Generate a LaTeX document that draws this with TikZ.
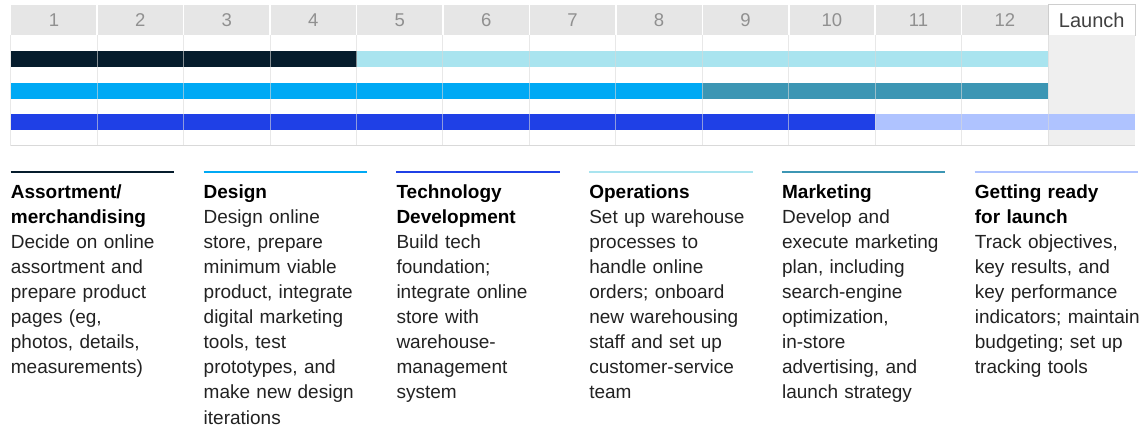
\documentclass[tikz,border=0pt]{standalone}
\usepackage{fontspec}
\setmainfont{Liberation Sans}
\definecolor{navyM}{HTML}{051C2C}
\definecolor{cyanM}{HTML}{00A9F4}
\definecolor{blueM}{HTML}{1F40E6}
\definecolor{cyanL}{HTML}{A9E4EF}
\definecolor{tealM}{HTML}{3C96B4}
\definecolor{periM}{HTML}{AFC3FF}
\definecolor{hdrM}{HTML}{E6E6E6}
\definecolor{gridM}{HTML}{D9D9D9}
\definecolor{launchM}{HTML}{EFEFEF}
\definecolor{numM}{HTML}{909090}
\definecolor{txtM}{HTML}{222222}
\begin{document}
\begin{tikzpicture}[x=1pt,y=-1pt,
  num/.style={text=numM,font=\fontsize{18.5}{18.5}\selectfont,inner sep=0,anchor=base},
  legtext/.style={anchor=north west,inner sep=0,text width=185pt,align=left,
    text=txtM,font=\fontsize{19}{25.1}\selectfont},
  legrule/.style={line width=2.3pt},
  gridline/.style={draw=gridM,line width=1pt}]
\pgfmathsetmacro{\L}{10.7}
\pgfmathsetmacro{\W}{86.45}
\useasboundingbox (0,0) rectangle (1145,430);
\fill[white] (0,0) rectangle (1145,430);
% header
\fill[hdrM] (\L,5) rectangle ({\L+12*\W},35);
\foreach \i in {1,...,11}{
  \draw[white,line width=1.5pt] ({\L+\i*\W},5) -- ({\L+\i*\W},35);
}
\foreach \i in {1,...,12}{
  \node[num] (m\i) at ({\L+(\i-0.5)*\W},27) {\i};
}
\node[draw=gridM!80!black!60,fill=white,line width=0.8pt,minimum width=86.45pt,minimum height=30.5pt,inner sep=0,anchor=north west,
  text=black!75,font=\fontsize{20}{20}\selectfont] (launch) at ({\L+12*\W},4.5) {Launch};
% launch body
\fill[launchM] ({\L+12*\W},35) rectangle ({\L+13*\W},145.7);
% bars
\fill[navyM] (\L,51) rectangle ({\L+4*\W},66.7);
\fill[cyanL] ({\L+4*\W},51) rectangle ({\L+12*\W},66.7);
\fill[cyanM] (\L,82.7) rectangle ({\L+8*\W},99);
\fill[tealM] ({\L+8*\W},82.7) rectangle ({\L+12*\W},99);
\fill[blueM] (\L,114) rectangle ({\L+10*\W},130);
\fill[periM] ({\L+10*\W},114) rectangle ({\L+13*\W},130);
% grid
\foreach \i in {0,...,12}{
  \draw[gridline,opacity=0.6] ({\L+\i*\W},35) -- ({\L+\i*\W},145.7);
}
\draw[draw=gridM,line width=1.6pt] (\L,145.7) -- ({\L+13*\W},145.7);
% legend
\foreach \k/\c in {0/navyM,1/cyanM,2/blueM,3/cyanL,4/tealM,5/periM}{
  \draw[legrule,\c] ({\L+\k*192.8},172) -- ({\L+\k*192.8+163.5},172);
}
\node[legtext] (t1) at ({\L+0*192.8},180.4) {\strut{\bfseries\color{black}Assortment/\\merchandising}\\Decide on online\\assortment and\\prepare product\\pages (eg,\\photos, details,\\measurements)};
\node[legtext] (t2) at ({\L+1*192.8},180.4) {\strut{\bfseries\color{black}Design}\\Design online\\store, prepare\\minimum viable\\product, integrate\\digital marketing\\tools, test\\prototypes, and\\make new design\\iterations};
\node[legtext] (t3) at ({\L+2*192.8},180.4) {\strut{\bfseries\color{black}Technology\\Development}\\Build tech\\foundation;\\integrate online\\store with\\warehouse-\\management\\system};
\node[legtext] (t4) at ({\L+3*192.8},180.4) {\strut{\bfseries\color{black}Operations}\\Set up warehouse\\processes to\\handle online\\orders; onboard\\new warehousing\\staff and set up\\customer-service\\team};
\node[legtext] (t5) at ({\L+4*192.8},180.4) {\strut{\bfseries\color{black}Marketing}\\Develop and\\execute marketing\\plan, including\\search-engine\\optimization,\\in-store\\advertising, and\\launch strategy};
\node[legtext] (t6) at ({\L+5*192.8},180.4) {\strut{\bfseries\color{black}Getting ready\\for launch}\\Track objectives,\\key results, and\\key performance\\indicators; maintain\\budgeting; set up\\tracking tools};
\end{tikzpicture}
\end{document}
